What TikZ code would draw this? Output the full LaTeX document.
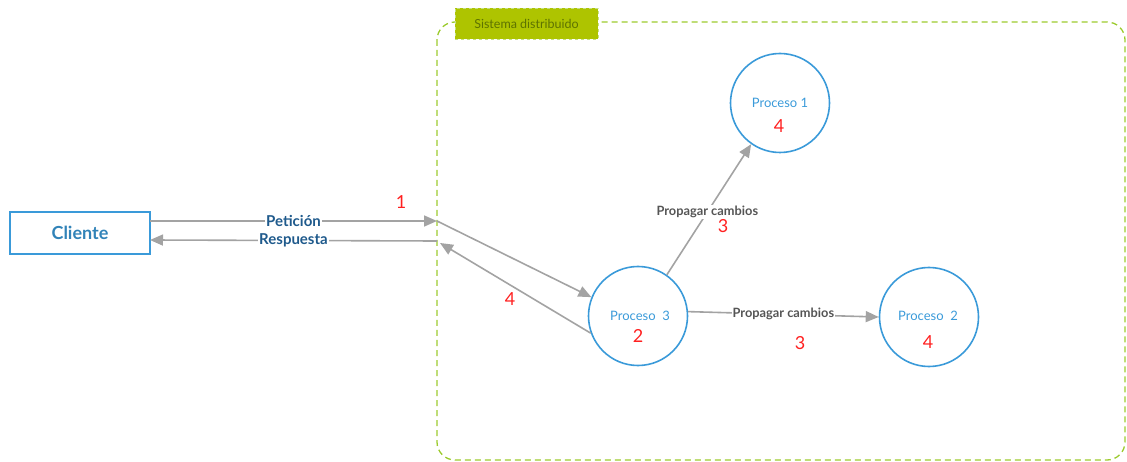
\documentclass[tikz,border=0pt]{standalone}
\usepackage{fontspec}
\setmainfont{Lato}
\usetikzlibrary{arrows.meta}
\definecolor{cblue}{HTML}{3A9AD9}
\definecolor{dblue}{HTML}{1F5A8C}
\definecolor{lgreen}{HTML}{9CCB2E}
\definecolor{tagfill}{HTML}{AEC400}
\definecolor{tagtext}{HTML}{5E7300}
\definecolor{agray}{HTML}{A3A3A3}
\definecolor{lgray}{HTML}{555555}
\definecolor{nred}{HTML}{FF2020}
\tikzset{
  proc/.style={circle, draw=cblue, line width=1.6pt, minimum size=99pt, inner sep=0pt},
  ptext/.style={text=cblue, font=\fontsize{13}{15}\selectfont},
  num/.style={text=nred, font=\fontsize{18}{20}\selectfont},
  conn/.style={draw=agray, line width=1.6pt, -{Triangle[length=13pt,width=11pt]}},
  blab/.style={fill=white, inner sep=1pt, text=dblue, font=\bfseries\fontsize{15}{17}\selectfont},
  glab/.style={fill=white, inner sep=1pt, text=lgray, font=\bfseries\fontsize{12.8}{15}\selectfont},
}
\begin{document}
\begin{tikzpicture}[x=1pt,y=-1pt]
\useasboundingbox (0,0) rectangle (1127,462);
% system boundary
\draw[lgreen, line width=1.3pt, dash pattern=on 6pt off 4pt, rounded corners=18pt] (437,22) rectangle (1125,460);
\node[draw=lgreen!60!white, dashed, fill=tagfill, minimum width=143pt, minimum height=31pt, inner sep=0pt,
  text=tagtext, font=\fontsize{12.5}{14}\selectfont] (tag) at (526.5,24) {Sistema distribuido};
% client
\node[draw=cblue, line width=1.6pt, minimum width=140pt, minimum height=42pt, inner sep=0pt,
  text=cblue!85!black, font=\bfseries\fontsize{18}{20}\selectfont] (cli) at (80,233) {Cliente};
% processes
\node[proc] (p3) at (638,316) {};
\node[proc] (p1) at (780,103) {};
\node[proc] (p2) at (929,317) {};
\node[ptext] (p3t) at (640,316) {Proceso\ \ 3};
\node[num] (p3n) at (638,336) {2};
\node[ptext] (p1t) at (780,103) {Proceso 1};
\node[num] (p1n) at (779,126) {4};
\node[ptext] (p2t) at (928,316) {Proceso\ \ 2};
\node[num] (p2n) at (928,342) {4};
% coordinates on boundary
\coordinate (inA) at (437,221);
\coordinate (inB) at (437,241);
\coordinate (inC) at (440,243);
\coordinate (cA) at (150,221);
\coordinate (cB) at (150,240);
% client <-> system
\draw[conn] (cA) -- node[blab, pos=0.5] {Petición} (inA);
\draw[conn] (inB) -- node[blab, pos=0.5] {Respuesta} (cB);
\node[num] (n1) at (401,202) {1};
% system <-> P3
\draw[conn] (inA) -- (p3.158);
\draw[conn] (p3.200) -- (inC);
\node[num] (n4) at (510,299) {4};
% propagation
\draw[conn] (p3.55) -- node[glab, pos=0.48] {Propagar cambios} (p1.235);
\node[num] (n3a) at (723,226) {3};
\draw[conn] (p3.5) -- node[glab, pos=0.5] {Propagar cambios} (p2.180);
\node[num] (n3b) at (800,343) {3};
\end{tikzpicture}
\end{document}
